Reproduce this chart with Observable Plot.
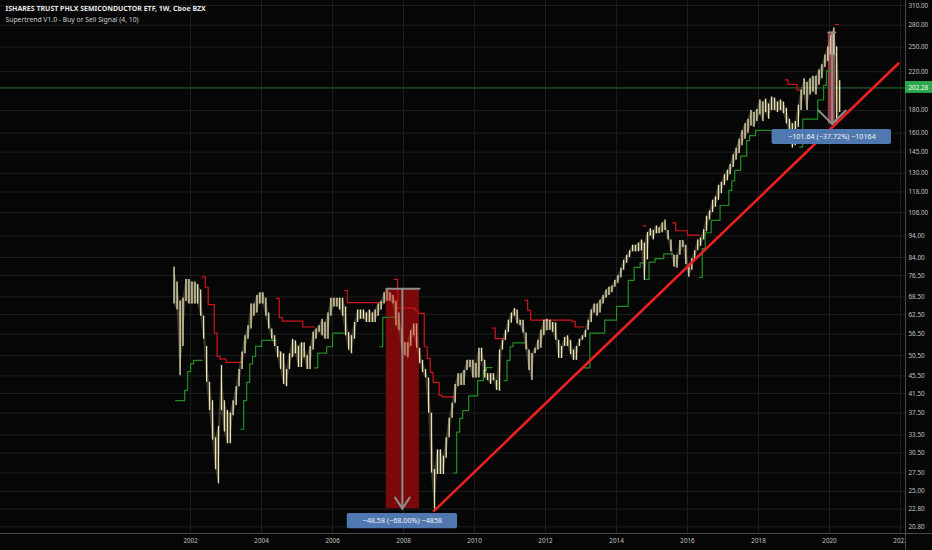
<!DOCTYPE html>
<html>
<head>
<meta charset="utf-8">
<script src="https://cdn.jsdelivr.net/npm/d3@7"></script>
<script src="https://cdn.jsdelivr.net/npm/@observablehq/plot@0.6"></script>
<style>
  body { margin: 0; background: #060606; }
  #chart { width: 932px; height: 550px; }
</style>
</head>
<body>
<div id="chart"></div>
<script>
// monthly high / low of the weekly candles, from 2001-07
const firstMonth = "2001-07-15"
const hi = [
  80, 74, 67, 68, 75, 75,
  74, 74, 73, 71, 62, 53, 44, 40, 33, 35, 48, 40,
  38, 37.5, 40, 43, 47, 51.5, 56, 59, 66, 66, 69, 70,
  70, 68, 63, 58, 56, 53, 51.5, 51, 47, 51, 55, 54.5,
  53, 54, 54, 50.5, 53, 57, 58, 59, 61, 60, 63, 68,
  68, 68, 68, 68, 65, 57, 56, 60, 64, 64, 64, 63,
  64, 63, 64, 66, 67, 70, 71.5, 70, 69, 67, 63, 58,
  54, 54, 57.5, 59.5, 59.5, 52.5, 49.3, 47, 45, 37.5, 28, 31,
  31, 30, 33, 36.5, 39.5, 43.5, 46, 46, 46.8, 49.3, 49.3, 49.3,
  48.5, 52.5, 52.5, 49.3, 46, 46, 46, 44.4, 52, 54.7, 57.6, 60.7,
  63, 64.5, 64, 60.7, 60.7, 56.8, 52, 51, 52.5, 54.7, 57.6, 60.7,
  61, 60.7, 60, 59.8, 54.7, 53, 55.5, 56, 54.7, 52, 53, 55,
  56, 57.6, 60.7, 64, 66, 66, 67.3, 69, 71, 72, 72.5, 74.6,
  76.5, 79.5, 82.8, 85, 87, 89.5, 89.5, 90.5, 92, 90.5, 95.6, 97.5,
  96.6, 99, 98, 100.5, 102, 96.6, 92, 85, 85, 91.8, 91.8, 89.5,
  81, 83.5, 87, 92, 93, 97, 104, 107, 113, 115, 122, 124,
  129, 132, 136, 143, 148, 155, 162, 168, 172, 180, 178, 181,
  190, 188, 191, 186, 193, 192, 188, 190, 188, 182, 172, 168,
  170, 185, 200, 212, 208, 212, 215, 215, 222, 228, 240, 250,
  265, 276, 250, 210
]
const lo = [
  66, 64, 45.5, 53, 67, 66,
  66, 66, 66, 62, 55, 44, 38, 32.6, 28, 26, 38, 34,
  32, 32, 37, 39, 43, 47, 51, 55, 58, 62, 63, 66,
  66, 62, 58, 55, 53, 50, 47, 43.5, 43, 47, 50, 51,
  47.5, 47.5, 50, 47, 47, 52, 55, 57, 56, 55, 55, 62,
  65, 65, 64, 62, 56, 52, 51, 55, 60, 61, 61, 60,
  60, 60, 60, 62, 64, 66, 67, 67, 66, 59, 57.5, 52,
  50.5, 50, 53, 56, 52.5, 48.5, 46.3, 45, 37.5, 27.5, 22.8, 27.3,
  27.3, 27.3, 29.7, 33, 36.5, 39.5, 43, 43.3, 43.3, 46.8, 47.5, 45,
  45, 45, 49, 45, 44.4, 43.5, 44.4, 42.2, 42, 52, 54.7, 57,
  59.8, 62, 59.5, 59, 56.8, 52, 46.8, 44.4, 51, 52, 52.5, 56,
  57.5, 57.6, 57, 54.7, 49.8, 49.8, 53, 53, 50.8, 49.3, 49.3, 53,
  54.7, 55.5, 57.6, 60, 63, 62, 63, 66, 68, 69, 70, 72,
  73.5, 75.5, 78.6, 81.5, 84, 86.5, 86.5, 86.5, 87, 74.6, 83, 94,
  92, 95, 95, 95.5, 96.6, 92, 86.5, 80, 79.5, 85, 88.5, 81,
  75.8, 78.6, 83, 87, 89, 92, 96, 102, 106, 109, 113, 117,
  122, 125, 129, 134, 139, 144, 150, 155, 160, 166, 165, 170,
  176, 170, 178, 172, 180, 180, 178, 180, 177, 168, 160, 148,
  150, 165, 180, 195, 180, 195, 198, 195, 205, 212, 225, 232,
  240, 240, 167, 178
]

// supertrend (4, 10) step line, one segment per trend
const stDate = [
  "2001-08", "2001-11", "2001-12", "2002-01", "2002-02", "2002-05",
  "2002-05", "2002-06", "2002-07", "2002-09", "2002-10", "2002-11", "2003-01", "2003-06",
  "2003-06", "2003-07", "2003-08", "2003-09", "2003-10", "2003-11", "2004-01", "2004-06",
  "2004-06", "2004-07", "2004-08", "2005-03", "2005-07",
  "2005-07", "2005-08", "2005-11", "2006-01", "2006-05",
  "2006-05", "2006-06", "2007-05",
  "2007-05", "2007-06", "2007-10",
  "2007-10", "2007-11", "2008-05", "2008-06", "2008-08", "2008-09", "2008-10", "2008-11", "2009-01", "2009-02", "2009-06",
  "2009-06", "2009-07", "2009-08", "2009-09", "2009-11", "2010-02", "2010-04", "2010-05", "2010-07",
  "2010-07", "2010-08", "2010-11",
  "2010-11", "2010-12", "2011-01", "2011-02", "2011-06",
  "2011-06", "2011-07", "2011-08", "2012-10", "2012-11", "2013-02",
  "2013-02", "2013-04", "2013-09", "2014-01", "2014-05", "2014-07", "2014-09", "2014-10",
  "2014-10", "2014-11",
  "2014-11", "2014-12", "2015-02", "2015-05", "2015-08",
  "2015-08", "2015-09", "2016-01", "2016-05",
  "2016-05", "2016-06", "2016-07", "2016-09", "2016-12", "2017-03", "2017-04", "2017-05", "2017-07", "2017-09", "2017-10", "2017-12", "2018-10",
  "2018-10", "2018-11", "2019-02", "2019-03",
  "2019-03", "2019-04", "2019-08", "2019-09", "2019-11", "2019-12", "2020-02", "2020-03",
  "2020-03", "2020-04"
]
const stValue = [
  40, 42.2, 46.5, 48.4, 49.3, 49.3,
  76, 72, 65.8, 56.8, 50.3, 49.6, 48.8, 48.8,
  34.5, 40, 44, 48.4, 50.3, 53, 54.7, 54.7,
  68, 61.5, 60.4, 58.6, 58.6,
  47.4, 51.2, 52.9, 56.8, 56.8,
  70.8, 66.5, 66.5,
  52.9, 61.6, 61.6,
  75, 64.6, 63.9, 62.9, 52.9, 49.8, 46.3, 44, 41.1, 40.8, 40.8,
  27.5, 34, 36.5, 38, 41, 44.4, 46.8, 47.5, 47.5,
  58.3, 55.2, 55.2,
  44.4, 49.3, 52.9, 54, 54,
  67.3, 63.9, 60.7, 60.3, 58.6, 58.6,
  47.4, 56.8, 60.7, 65.2, 74.6, 79.8, 81.7, 81.7,
  99, 99,
  75, 82, 83.5, 85.6, 85.6,
  100.5, 96.5, 94.3, 94.3,
  75.8, 88, 95.5, 101.8, 110, 118.9, 125, 132, 142, 154, 158, 162.3, 162.3,
  211, 206, 200, 200,
  149, 172, 172, 190, 205, 221, 240, 240,
  281, 281
]
const stSeg = [
  0, 0, 0, 0, 0, 0,
  1, 1, 1, 1, 1, 1, 1, 1,
  2, 2, 2, 2, 2, 2, 2, 2,
  3, 3, 3, 3, 3,
  4, 4, 4, 4, 4,
  5, 5, 5,
  6, 6, 6,
  7, 7, 7, 7, 7, 7, 7, 7, 7, 7, 7,
  8, 8, 8, 8, 8, 8, 8, 8, 8,
  9, 9, 9,
  10, 10, 10, 10, 10,
  11, 11, 11, 11, 11, 11,
  12, 12, 12, 12, 12, 12, 12, 12,
  13, 13,
  14, 14, 14, 14, 14,
  15, 15, 15, 15,
  16, 16, 16, 16, 16, 16, 16, 16, 16, 16, 16, 16, 16,
  17, 17, 17, 17,
  18, 18, 18, 18, 18, 18, 18, 18,
  19, 19
]

// price scale labels (right) and year labels (bottom)
const yTicks = [20.8, 22.8, 25, 27.5, 30.5, 33.5, 37.5, 41.5, 45.5, 50.5, 56.5, 62.5, 68.5,
  76.5, 84, 94, 106, 118, 130, 145, 160, 180, 220, 250, 280, 310]
const years = [2002, 2004, 2006, 2008, 2010, 2012, 2014, 2016, 2018, 2020, 2022]

const title = "ISHARES TRUST PHLX SEMICONDUCTOR ETF, 1W, Cboe BZX"
const subtitle = "Supertrend V1.0 - Buy or Sell Signal (4, 10)"
const lastPrice = 202.28

// drawings: trend line and the two price-range measurements
const trendDates = ["2008-11-10", "2021-12-10"]
const trendPrices = [22.6, 229.6]
const drop1 = {from: "2007-07-08", to: "2008-06-13", mid: "2007-12-20", top: 71.44, bottom: 22.86,
  label: "\u221248.58 (\u221268.00%) \u22124858"}
const drop2 = {from: "2019-12-20", to: "2020-03-01", mid: "2020-01-28", top: 269.46, bottom: 167.82,
  label: "\u2212101.64 (\u221237.72%) \u221210164"}

const parseM = d3.utcParse("%Y-%m")
const parseD = d3.utcParse("%Y-%m-%d")
const start = parseD(firstMonth)

const candles = hi.map((h, i) => ({date: d3.utcMonth.offset(start, i), hi: h, lo: lo[i]}))
const trend = stDate.map((d, i) => ({date: parseM(d), value: stValue[i], seg: stSeg[i],
  up: stSeg[i] % 2 === 0}))
const yearDates = years.map(y => new Date(Date.UTC(y, 0, 1)))
const trendLine = trendDates.map((d, i) => ({date: parseD(d), price: trendPrices[i]}))

const xMin = parseD("1996-08-24"), xMax = parseD("2022-02-21"), xFar = parseD("2023-06-01")
const yMin = 20.1, yMax = 318.2

const bg = "#060606"
const grid = "#1e1e1e"
const candle = "#ebe3b3"

function measure(m, fill, opacity) {
  const f = parseD(m.from), t = parseD(m.to)
  return Plot.rect([m], {x1: () => f, x2: () => t, y1: m.bottom, y2: m.top, fill: fill,
    fillOpacity: opacity})
}
function measureLines(m, wingDays, wingPrice) {
  const f = parseD(m.from), t = parseD(m.to), c = parseD(m.mid)
  const w1 = d3.utcDay.offset(c, -wingDays), w2 = d3.utcDay.offset(c, wingDays)
  return [
    Plot.line([[f, m.top], [t, m.top]], {stroke: "#8c8c8c", strokeWidth: 2}),
    Plot.line([[c, m.top], [c, m.bottom]], {stroke: "#8c8c8c", strokeWidth: 2}),
    Plot.line([[w1, wingPrice], [c, m.bottom], [w2, wingPrice]], {stroke: "#8c8c8c", strokeWidth: 2})
  ]
}

const chart = Plot.plot({
  width: 932,
  height: 550,
  marginLeft: 0,
  marginRight: 27,
  marginTop: 0,
  marginBottom: 17,
  style: {background: bg, color: "#bdbdbd", fontFamily: "Noto Sans", fontSize: "6.3px"},
  x: {type: "utc", domain: [xMin, xMax]},
  y: {type: "log", domain: [yMin, yMax]},
  marks: [
    Plot.ruleY(yTicks, {stroke: grid, strokeWidth: 1}),
    Plot.ruleX(yearDates, {stroke: grid, strokeWidth: 1}),
    measure(drop1, "#680606", 1),
    measure(drop2, "#9a3a45", 1),
    Plot.ruleY([lastPrice], {stroke: "#2f6d3a", strokeWidth: 1}),
    Plot.line(trend.filter(d => d.up), {x: "date", y: "value", z: "seg", stroke: "#1f8f23",
      strokeWidth: 1.2, curve: "step-after"}),
    Plot.line(trend.filter(d => !d.up), {x: "date", y: "value", z: "seg", stroke: "#d3141a",
      strokeWidth: 1.2, curve: "step-after"}),
    // candle ribbon: faint range band with a wick rule per month
    Plot.areaY(candles, {x: "date", y1: "lo", y2: "hi", fill: candle, fillOpacity: 0.22}),
    Plot.ruleX(candles, {x: "date", y1: "lo", y2: "hi", stroke: candle, strokeWidth: 1.3}),
    // the first measurement tints the candles beneath it
    measure(drop1, "#a01010", 0.35),
    Plot.line(trendLine, {x: "date", y: "price", stroke: "#e8201f", strokeWidth: 2.6}),
    ...measureLines(drop1, 75, 24.2),
    ...measureLines(drop2, 140, 180),
    // measurement labels
    Plot.rect([drop1], {x1: () => parseD("2006-06-01"), x2: () => parseD("2009-07-10"),
      y1: 20.6, y2: 22.3, fill: "#4f78b0", rx: 2}),
    Plot.text([drop1], {x: () => parseD(drop1.mid), y: 21.45, text: "label", fill: "#f2f2f2",
      fontSize: 7.2}),
    Plot.rect([drop2], {x1: () => parseD("2018-05-20"), x2: () => parseD("2021-09-30"),
      y1: 150.9, y2: 163.1, fill: "#4f78b0", rx: 2}),
    Plot.text([drop2], {x: () => parseD("2020-01-26"), y: 156.9, text: "label", fill: "#f2f2f2",
      fontSize: 7.2}),
    // axes, then the price scale column over the clipped 2022 label
    Plot.axisY(yTicks, {anchor: "right", tickSize: 0, tickPadding: 3,
      tickFormat: d3.format(".2f"), fill: "#c4c4c4"}),
    Plot.axisX(yearDates, {anchor: "bottom", tickSize: 0, tickPadding: 5,
      tickFormat: d3.utcFormat("%Y"), fill: "#c4c4c4"}),
    Plot.rect([0], {x1: xMax, x2: xFar, y1: 17.5, y2: yMin, fill: bg}),
    Plot.ruleY([yMin], {x1: xMin, x2: xFar, stroke: "#4a4a4a"}),
    Plot.ruleX([xMax], {y1: 17.5, y2: 340, stroke: "#4a4a4a"}),
    Plot.rect([lastPrice], {x1: xMax, x2: xFar, y1: 196.6, y2: 209.1, fill: "#2ea84c"}),
    Plot.text([lastPrice], {x: xMax, y: lastPrice, text: d => d.toFixed(2), dx: 3,
      textAnchor: "start", fill: "#f4fff4"}),
    // titles, top left
    Plot.text([title], {frameAnchor: "top-left", dx: 5, dy: 6, text: d => d, fill: "#e6e6e6",
      fontWeight: "bold", fontSize: 7, textAnchor: "start"}),
    Plot.text([subtitle], {frameAnchor: "top-left", dx: 5, dy: 17, text: d => d, fill: "#d0d0d0",
      fontSize: 6.8, textAnchor: "start"})
  ]
})

d3.select("#chart").append(() => chart)
</script>
</body>
</html>
